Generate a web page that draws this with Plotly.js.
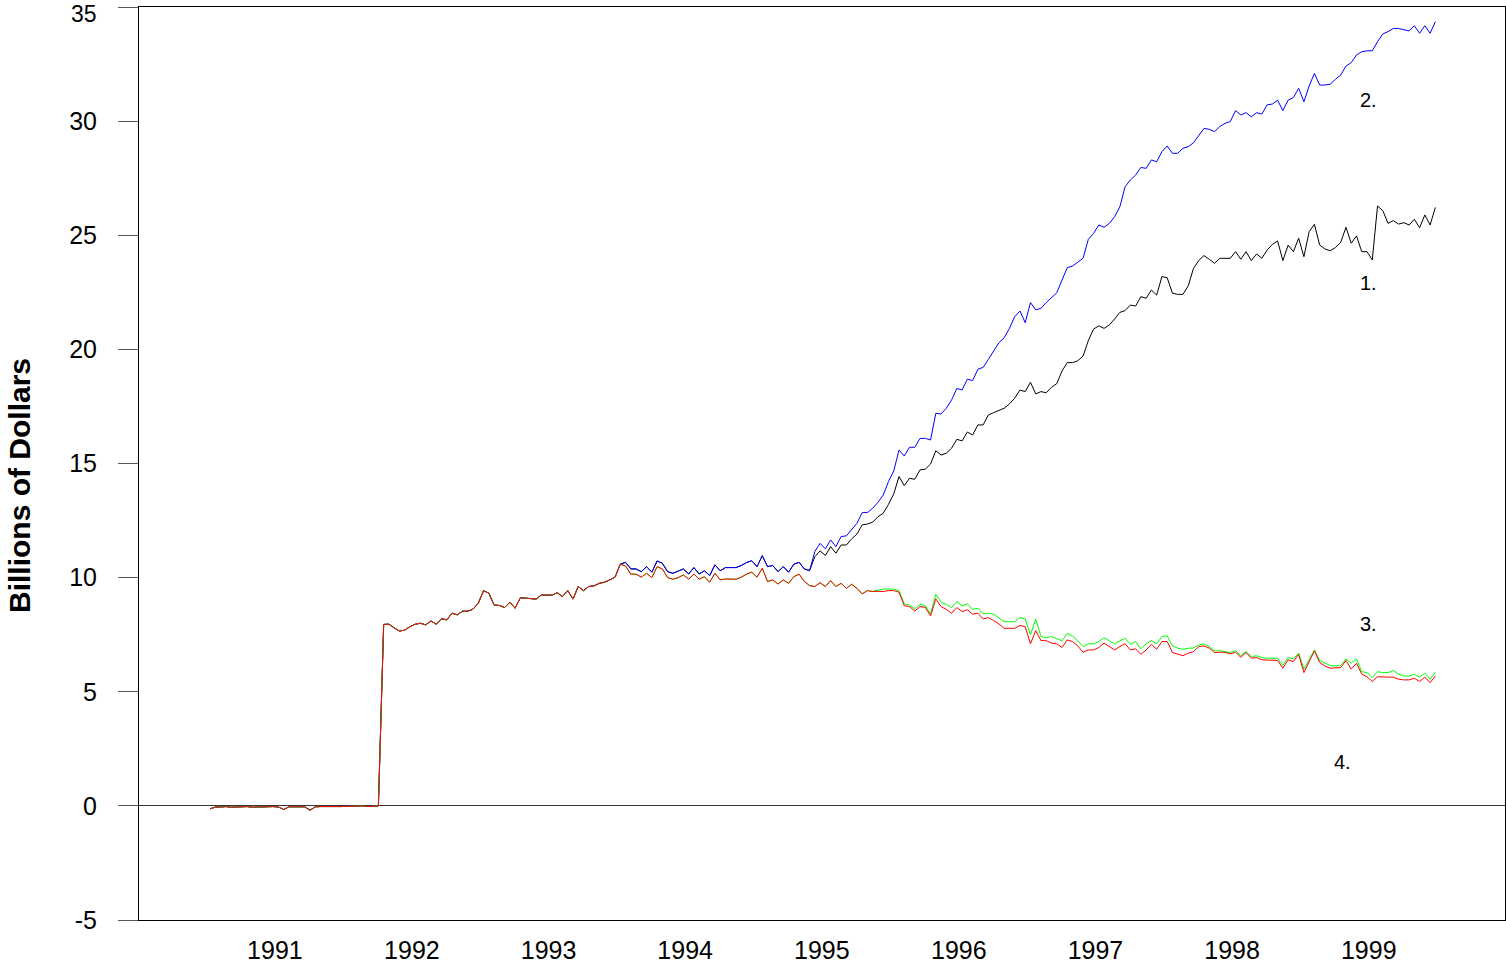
<!DOCTYPE html>
<html>
<head>
<meta charset="utf-8">
<script src="https://cdn.plot.ly/plotly-3.0.1.min.js"></script>
<style>
  html, body { margin: 0; padding: 0; background: #ffffff; }
  #chart { width: 1506px; height: 963px; }
</style>
</head>
<body>
<div id="chart"></div>
<script>
// ---- Data (billions of dollars, biweekly observations, Jan 1991 - Dec 1999) ----
const zeroSegment = [-0.13,-0.05,-0.05,-0.03,-0.06,-0.04,-0.05,-0.03,-0.06,-0.05,
  -0.07,-0.04,-0.03,-0.05,-0.16,-0.04,-0.03,-0.02,-0.04,-0.19,
  -0.04,-0.03,-0.02,-0.04,-0.03,-0.03,-0.02,-0.04,-0.02,0.0,
  -0.03,0.0,0.0];

const commonSegment = [7.95,7.96,7.8,7.66,7.7,7.85,7.96,8.0,7.93,8.1,
  7.96,8.2,8.15,8.44,8.37,8.53,8.53,8.62,8.88,9.43,
  9.32,8.8,8.78,8.69,8.92,8.66,9.12,9.1,9.08,9.06,
  9.24,9.23,9.23,9.34,9.17,9.43,9.06,9.61,9.43,9.61,
  9.64,9.75,9.8,9.9,10.02,10.59];

const upperShared = [10.67,10.38,10.38,10.26,10.48,10.24,10.73,10.63,10.26,10.19,
  10.3,10.38,10.16,10.44,10.16,10.3,10.09,10.56,10.3,10.44,
  10.44,10.44,10.53,10.66,10.74,10.48,10.96,10.48,10.53,10.26,
  10.48,10.24,10.59,10.67,10.38,10.31];

const lowerShared = [10.51,10.15,10.15,10.02,10.19,10.0,10.48,10.38,10.0,9.93,
  10.0,10.12,9.93,10.16,9.93,10.04,9.8,10.19,9.9,9.94,
  9.93,9.93,10.02,10.15,10.24,10.02,10.41,9.83,9.9,9.72,
  9.9,9.75,10.04,10.15,9.83,9.65,9.61,9.78,9.61,9.87,
  9.61,9.75,9.53,9.71,9.53,9.29];

const series1Tail = [10.92,11.17,10.97,11.36,11.07,11.43,11.43,11.7,11.91,12.31,
  12.35,12.43,12.67,12.82,13.21,13.67,14.43,14.03,14.35,14.31,
  14.72,14.75,14.98,15.56,15.37,15.45,15.67,16.06,15.99,16.38,
  16.25,16.69,16.69,17.13,17.23,17.31,17.42,17.61,17.86,18.22,
  18.15,18.56,18.05,18.15,18.1,18.34,18.5,19.05,19.42,19.42,
  19.5,19.71,20.38,20.89,21.03,20.92,21.07,21.33,21.62,21.7,
  21.94,21.9,22.31,22.24,22.6,22.38,23.19,23.14,22.46,22.41,
  22.41,22.78,23.55,23.89,24.11,23.95,23.77,23.99,23.99,23.99,
  24.28,23.95,24.28,23.89,24.18,23.99,24.35,24.6,24.75,23.89,
  24.57,24.28,24.87,24.06,25.16,25.48,24.57,24.4,24.32,24.46,
  24.69,25.35,24.65,24.97,24.28,24.28,23.92,26.28,26.08,25.52,
  25.64,25.49,25.55,25.45,25.7,25.33,25.89,25.45,26.22];

const series2Tail = [11.15,11.5,11.26,11.65,11.36,11.8,11.83,12.09,12.38,12.85,
  12.85,13.04,13.3,13.62,14.21,14.67,15.59,15.33,15.71,15.71,
  16.1,16.1,16.03,17.2,17.17,17.42,17.78,18.29,18.22,18.7,
  18.63,19.13,19.21,19.56,19.93,20.29,20.51,20.92,21.43,21.68,
  21.17,22.05,21.73,21.8,22.05,22.27,22.48,23.04,23.58,23.65,
  23.84,23.99,24.82,25.08,25.45,25.35,25.52,25.81,26.25,27.13,
  27.42,27.64,27.97,27.93,28.3,28.22,28.66,28.91,28.59,28.59,
  28.81,28.88,29.05,29.35,29.68,29.64,29.54,29.76,29.9,29.98,
  30.46,30.27,30.37,30.19,30.37,30.31,30.71,30.75,30.92,30.46,
  30.92,31.03,31.44,30.85,31.54,32.09,31.58,31.58,31.62,31.83,
  32.02,32.41,32.56,32.9,33.04,33.08,33.08,33.48,33.82,33.92,
  34.06,34.06,34.02,33.95,34.18,33.85,34.18,33.85,34.36];

const series3Tail = [9.43,9.4,9.45,9.5,9.5,9.5,9.43,8.85,8.8,8.63,
  8.83,8.77,8.41,9.27,8.92,8.83,8.69,8.95,8.76,8.85,
  8.61,8.66,8.41,8.44,8.4,8.22,8.07,8.07,8.07,8.25,
  8.19,7.49,8.18,7.42,7.37,7.42,7.34,7.23,7.56,7.45,
  7.23,6.98,7.1,7.1,7.2,7.37,7.23,7.1,7.23,7.34,
  7.08,7.2,6.88,7.1,7.24,7.1,7.42,7.45,7.01,6.91,
  6.86,6.91,6.91,7.05,7.1,6.98,6.79,6.8,6.76,6.72,
  6.8,6.58,6.76,6.54,6.58,6.5,6.47,6.47,6.47,6.15,
  6.5,6.44,6.69,5.99,6.4,6.83,6.37,6.25,6.15,6.13,
  6.15,6.44,6.25,6.44,5.88,5.84,5.62,5.88,5.84,5.84,
  5.93,5.77,5.69,5.69,5.77,5.64,5.81,5.55,5.86];

const series4Tail = [9.43,9.39,9.4,9.39,9.43,9.43,9.36,8.77,8.73,8.54,
  8.73,8.7,8.32,9.07,8.73,8.61,8.44,8.69,8.51,8.59,
  8.4,8.44,8.19,8.25,8.12,7.97,7.78,7.78,7.78,7.9,
  7.85,7.1,7.68,7.24,7.24,7.13,7.1,6.94,7.27,7.2,
  7.01,6.73,6.83,6.83,6.94,7.13,6.98,6.83,6.98,7.1,
  6.83,6.88,6.64,6.83,7.08,6.86,7.2,7.2,6.72,6.64,
  6.58,6.69,6.76,6.98,7.01,6.91,6.72,6.73,6.73,6.66,
  6.73,6.51,6.72,6.47,6.5,6.4,6.4,6.37,6.37,6.03,
  6.4,6.32,6.64,5.84,6.32,6.79,6.28,6.13,6.03,6.03,
  6.06,6.37,5.99,6.25,5.77,5.66,5.45,5.66,5.64,5.64,
  5.64,5.55,5.52,5.52,5.59,5.45,5.64,5.4,5.69];

const yearLabels = ['1991','1992','1993','1994','1995','1996','1997','1998','1999'];
const yTickValues = [-5, 0, 5, 10, 15, 20, 25, 30, 35];
const yTickLabels = ['-5', '0', '5', '10', '15', '20', '25', '30', '35'];
const seriesLabels = ['1.', '2.', '3.', '4.'];
const yTitle = 'Billions of Dollars';
const startDate = '1991-01-10';
const endDate = '1999-12-27';

// ---- Build series ----
const series1 = zeroSegment.concat(commonSegment, upperShared, series1Tail);
const series2 = zeroSegment.concat(commonSegment, upperShared, series2Tail);
const series3 = zeroSegment.concat(commonSegment, lowerShared, series3Tail);
const series4 = zeroSegment.concat(commonSegment, lowerShared, series4Tail);

const n = series1.length;
const t0 = Date.parse(startDate + 'T00:00:00Z');
const t1 = Date.parse(endDate + 'T00:00:00Z');
const dates = [];
for (let i = 0; i < n; i++) {
  dates.push(new Date(t0 + (t1 - t0) * i / (n - 1)).toISOString().slice(0, 19));
}

const fontFamily = 'Arial, "Liberation Sans", Helvetica, sans-serif';
const tickFontSize = 25;

function mk(y, color) {
  return { x: dates, y: y, type: 'scatter', mode: 'lines',
           line: { color: color, width: 1 }, hoverinfo: 'skip', showlegend: false };
}

const traces = [
  mk(series1, '#000000'),
  mk(series2, '#0000ff'),
  mk(series3, '#00ff00'),
  mk(series4, '#ff0000')
];

// The top tick label (35) sits at the very top edge of the page; it is drawn
// as an annotation anchored to the page top so it stays fully inside the picture.
const topIdx = yTickValues.length - 1;
const axisTickText = yTickLabels.map((t, i) => (i === topIdx ? '' : t));

const seriesAnnotations = [
  { x: '1999-07-02', y: 22.91, text: seriesLabels[0] },
  { x: '1999-07-02', y: 30.92, text: seriesLabels[1] },
  { x: '1999-07-02', y: 7.97, text: seriesLabels[2] },
  { x: '1999-04-23', y: 1.93, text: seriesLabels[3] }
].map(a => Object.assign(a, { xref: 'x', yref: 'y', showarrow: false,
    xanchor: 'center', yanchor: 'middle',
    font: { family: fontFamily, size: 20, color: '#000000' } }));

const layout = {
  width: 1506, height: 963,
  margin: { l: 139, r: 1, t: 7, b: 43 },
  paper_bgcolor: '#ffffff', plot_bgcolor: '#ffffff',
  font: { family: fontFamily, color: '#000000', size: tickFontSize },
  xaxis: {
    type: 'date',
    range: ['1990-07-04', '2000-06-30'],
    tickmode: 'array',
    tickvals: yearLabels.map(y => y + '-07-02'),
    ticktext: yearLabels,
    ticks: '',
    showgrid: false, zeroline: false,
    showline: true, linecolor: '#000000', linewidth: 1, mirror: true,
    tickfont: { family: fontFamily, size: tickFontSize, color: '#000000' },
    ticklabelstandoff: 8
  },
  yaxis: {
    range: [-5, 35],
    tickmode: 'array',
    tickvals: yTickValues,
    ticktext: axisTickText,
    ticks: 'outside', ticklen: 20, tickwidth: 1, tickcolor: '#555555',
    showgrid: false,
    zeroline: true, zerolinecolor: '#333333', zerolinewidth: 1,
    showline: true, linecolor: '#000000', linewidth: 1, mirror: true,
    tickfont: { family: fontFamily, size: tickFontSize, color: '#000000' },
    ticklabelstandoff: 16
  },
  annotations: seriesAnnotations.concat([
    {
      xref: 'paper', yref: 'paper',
      x: (98 - 139) / 1366, y: 1 + 7 / 913,
      xanchor: 'right', yanchor: 'top', borderpad: 0,
      text: yTickLabels[topIdx], showarrow: false,
      font: { family: fontFamily, size: 23, color: '#000000' }
    },
    {
      xref: 'paper', yref: 'paper',
      x: (19 - 139) / 1366, y: (920 - 486) / 913,
      xanchor: 'center', yanchor: 'middle',
      text: '<b>' + yTitle + '</b>', textangle: -90, showarrow: false,
      font: { family: fontFamily, size: 30, color: '#000000' }
    }
  ])
};

Plotly.newPlot('chart', traces, layout, { staticPlot: true, displayModeBar: false });
</script>
</body>
</html>
